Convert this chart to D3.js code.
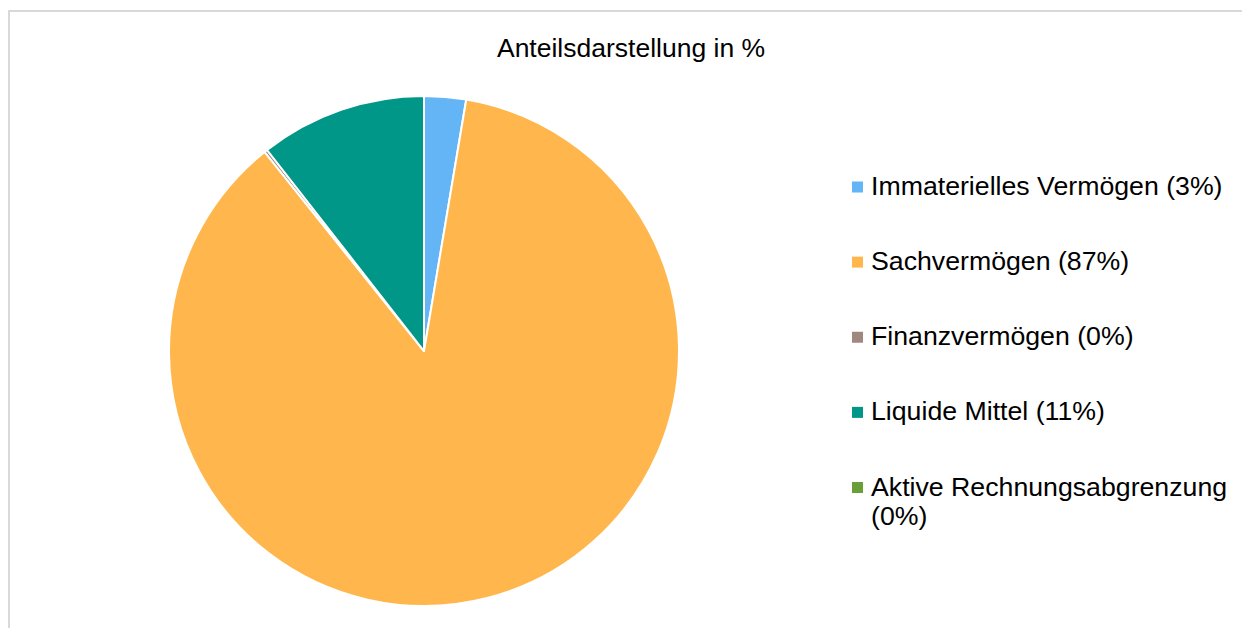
<!DOCTYPE html>
<html>
<head>
<meta charset="utf-8">
<script src="https://cdn.jsdelivr.net/npm/d3@7"></script>
<style>
  body { margin: 0; background: #fff; }
  text { font-family: "Liberation Sans", Arial, sans-serif; fill: #000; }
</style>
</head>
<body>
<script>
var categories = ["Immaterielles Vermögen", "Sachvermögen", "Finanzvermögen", "Liquide Mittel", "Aktive Rechnungsabgrenzung"];
var values = [2.65, 86.6, 0.2, 10.55, 0.0];
var labels = ["(3%)", "(87%)", "(0%)", "(11%)", "(0%)"];
var colors = ["#64b5f6", "#ffb74d", "#a1887f", "#009688", "#689f38"];

var width = 1242, height = 628,
    cx = 424, cy = 351, radius = 255;

var svg = d3.select("body").append("svg")
    .attr("width", width)
    .attr("height", height);

// chart area frame
svg.append("rect")
    .attr("x", 9)
    .attr("y", 11)
    .attr("width", width + 10)
    .attr("height", height + 10)
    .style("fill", "none")
    .style("stroke", "#d9d9d9")
    .style("stroke-width", 2);

svg.append("text")
    .attr("x", 631)
    .attr("y", 57)
    .attr("text-anchor", "middle")
    .style("font-size", "26.5px")
    .text("Anteilsdarstellung in %");

var pie = d3.pie().sort(null).value(function(d) { return d; });
var arc = d3.arc().innerRadius(0).outerRadius(radius);

var color = d3.scaleOrdinal().domain(categories).range(colors);

var g = svg.append("g")
    .attr("transform", "translate(" + cx + "," + cy + ")");

g.selectAll("path")
    .data(pie(values))
    .enter()
    .append("path")
    .attr("d", arc)
    .style("fill", function(d, i) { return color(categories[i]); })
    .style("stroke", "#fff")
    .style("stroke-width", 2)
    .style("stroke-linejoin", "round");

// legend
var legendY = d3.scalePoint().domain(categories).range([187, 487.5]);

var legend = svg.selectAll(".legend")
    .data(categories)
    .enter()
    .append("g")
    .attr("class", "legend")
    .attr("transform", function(d) { return "translate(852," + legendY(d) + ")"; });

legend.append("rect")
    .attr("x", 0)
    .attr("y", -5.5)
    .attr("width", 11)
    .attr("height", 11)
    .style("fill", function(d) { return color(d); });

legend.append("text")
    .attr("x", 19)
    .attr("y", 8)
    .style("font-size", "26.7px")
    .each(function(d, i) {
        var t = d3.select(this);
        if (d.length > 25) {
            t.append("tspan").attr("x", 19).text(d);
            t.append("tspan").attr("x", 19).attr("dy", 29).text(labels[i]);
        } else {
            t.text(d + " " + labels[i]);
        }
    });
</script>
</body>
</html>
